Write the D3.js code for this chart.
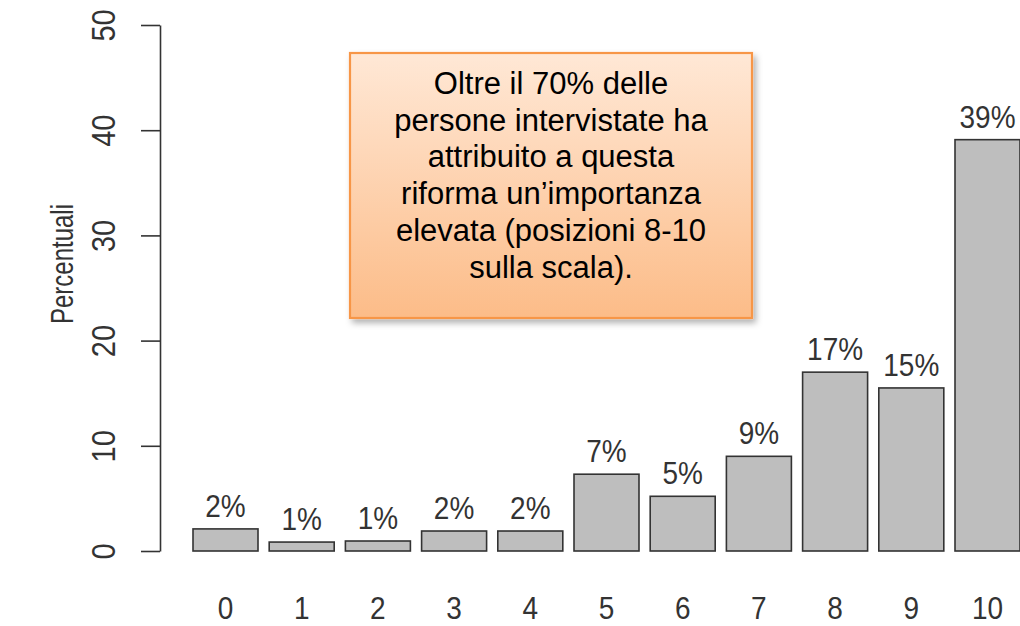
<!DOCTYPE html>
<html>
<head>
<meta charset="utf-8">
<script src="https://cdn.jsdelivr.net/npm/d3@7"></script>
<style>
  body { margin: 0; background: #fff; }
  svg { display: block; font-family: Arial, "Liberation Sans", sans-serif; }
</style>
</head>
<body>
<div id="chart"></div>
<script>
// data
var categories = ["0","1","2","3","4","5","6","7","8","9","10"]
var percents = [2.1, 0.85, 0.95, 1.9, 1.9, 7.3, 5.2, 9.0, 17.0, 15.5, 39.1]
var barLabels = ["2%","1%","1%","2%","2%","7%","5%","9%","17%","15%","39%"]
var yTicks = [0, 10, 20, 30, 40, 50]
var noteLines = ["Oltre il 70% delle", "persone intervistate ha", "attribuito a questa",
                 "riforma un\u2019importanza", "elevata (posizioni 8-10", "sulla scala)."]

var width = 1020, height = 626
var stretch = 1.15 // the original text looks a bit taller than plain Arial

var svg = d3.select("#chart")
    .append("svg")
    .attr("width", width)
    .attr("height", height)

// scales
var y = d3.scaleLinear()
    .domain([0, 50])
    .range([551, 25])

var x = d3.scaleBand()
    .domain(categories)
    .range([193, 1020])
    .paddingInner(0.147)
    .paddingOuter(0)

// y axis (R style: line only over tick range, labels rotated)
var yAxis = svg.append("g")
    .attr("transform", "translate(160,0)")
    .call(d3.axisLeft(y).tickValues(yTicks).tickSize(19).tickSizeOuter(0).tickPadding(0))
yAxis.select(".domain").attr("stroke", "#333").attr("stroke-width", 1.6)
yAxis.selectAll(".tick line").attr("stroke", "#333").attr("stroke-width", 1.6)
yAxis.selectAll(".tick text")
    .attr("x", null).attr("dy", null)
    .attr("transform", `translate(-45,0) rotate(-90) scale(1,${stretch})`)
    .style("text-anchor", "middle")
    .style("font-size", "29px")
    .style("font-family", "Arial, 'Liberation Sans', sans-serif")
    .attr("fill", "#333")

// y axis title
svg.append("text")
    .attr("transform", "translate(73,264) rotate(-90) scale(1,1.3)")
    .style("text-anchor", "middle")
    .style("font-size", "24px")
    .attr("fill", "#333")
    .text("Percentuali")

// bars
svg.append("g")
    .selectAll("rect")
    .data(percents)
    .enter().append("rect")
        .attr("x", function(d, i) { return x(categories[i]) })
        .attr("y", function(d) { return y(d) })
        .attr("width", x.bandwidth())
        .attr("height", function(d) { return y(0) - y(d) })
        .attr("fill", "#bebebe")
        .attr("stroke", "#333")
        .attr("stroke-width", 1.6)

// value labels over bars
svg.append("g")
    .selectAll("text")
    .data(percents)
    .enter().append("text")
        .attr("transform", function(d, i) {
            return `translate(${x(categories[i]) + x.bandwidth() / 2},${y(d) - 12}) scale(1,${stretch})` })
        .style("text-anchor", "middle")
        .style("font-size", "28px")
        .attr("fill", "#333")
        .text(function(d, i) { return barLabels[i] })

// category labels under bars (no x axis line)
svg.append("g")
    .selectAll("text")
    .data(categories)
    .enter().append("text")
        .attr("transform", function(d) {
            return `translate(${x(d) + x.bandwidth() / 2},619) scale(1,${stretch})` })
        .style("text-anchor", "middle")
        .style("font-size", "28px")
        .attr("fill", "#333")
        .text(function(d) { return d })

// annotation box with gradient + shadow
var defs = svg.append("defs")
var grad = defs.append("linearGradient")
    .attr("id", "noteFill")
    .attr("x1", 0).attr("y1", 0).attr("x2", 0).attr("y2", 1)
grad.append("stop").attr("offset", "0%").attr("stop-color", "#ffe8d6")
grad.append("stop").attr("offset", "100%").attr("stop-color", "#fcbc88")

var shadow = defs.append("filter")
    .attr("id", "noteShadow")
    .attr("x", "-10%").attr("y", "-10%").attr("width", "120%").attr("height", "120%")
shadow.append("feDropShadow")
    .attr("dx", 3).attr("dy", 4).attr("stdDeviation", 3)
    .attr("flood-color", "#000").attr("flood-opacity", 0.3)

svg.append("rect")
    .attr("x", 350).attr("y", 53)
    .attr("width", 402).attr("height", 265)
    .attr("fill", "url(#noteFill)")
    .attr("stroke", "#f79646")
    .attr("stroke-width", 2.2)
    .attr("filter", "url(#noteShadow)")

svg.append("g")
    .selectAll("text")
    .data(noteLines)
    .enter().append("text")
        .attr("x", 551)
        .attr("y", function(d, i) { return 94 + i * 36.7 })
        .style("text-anchor", "middle")
        .style("font-size", "31px")
        .attr("fill", "#000")
        .text(function(d) { return d })
</script>
</body>
</html>
